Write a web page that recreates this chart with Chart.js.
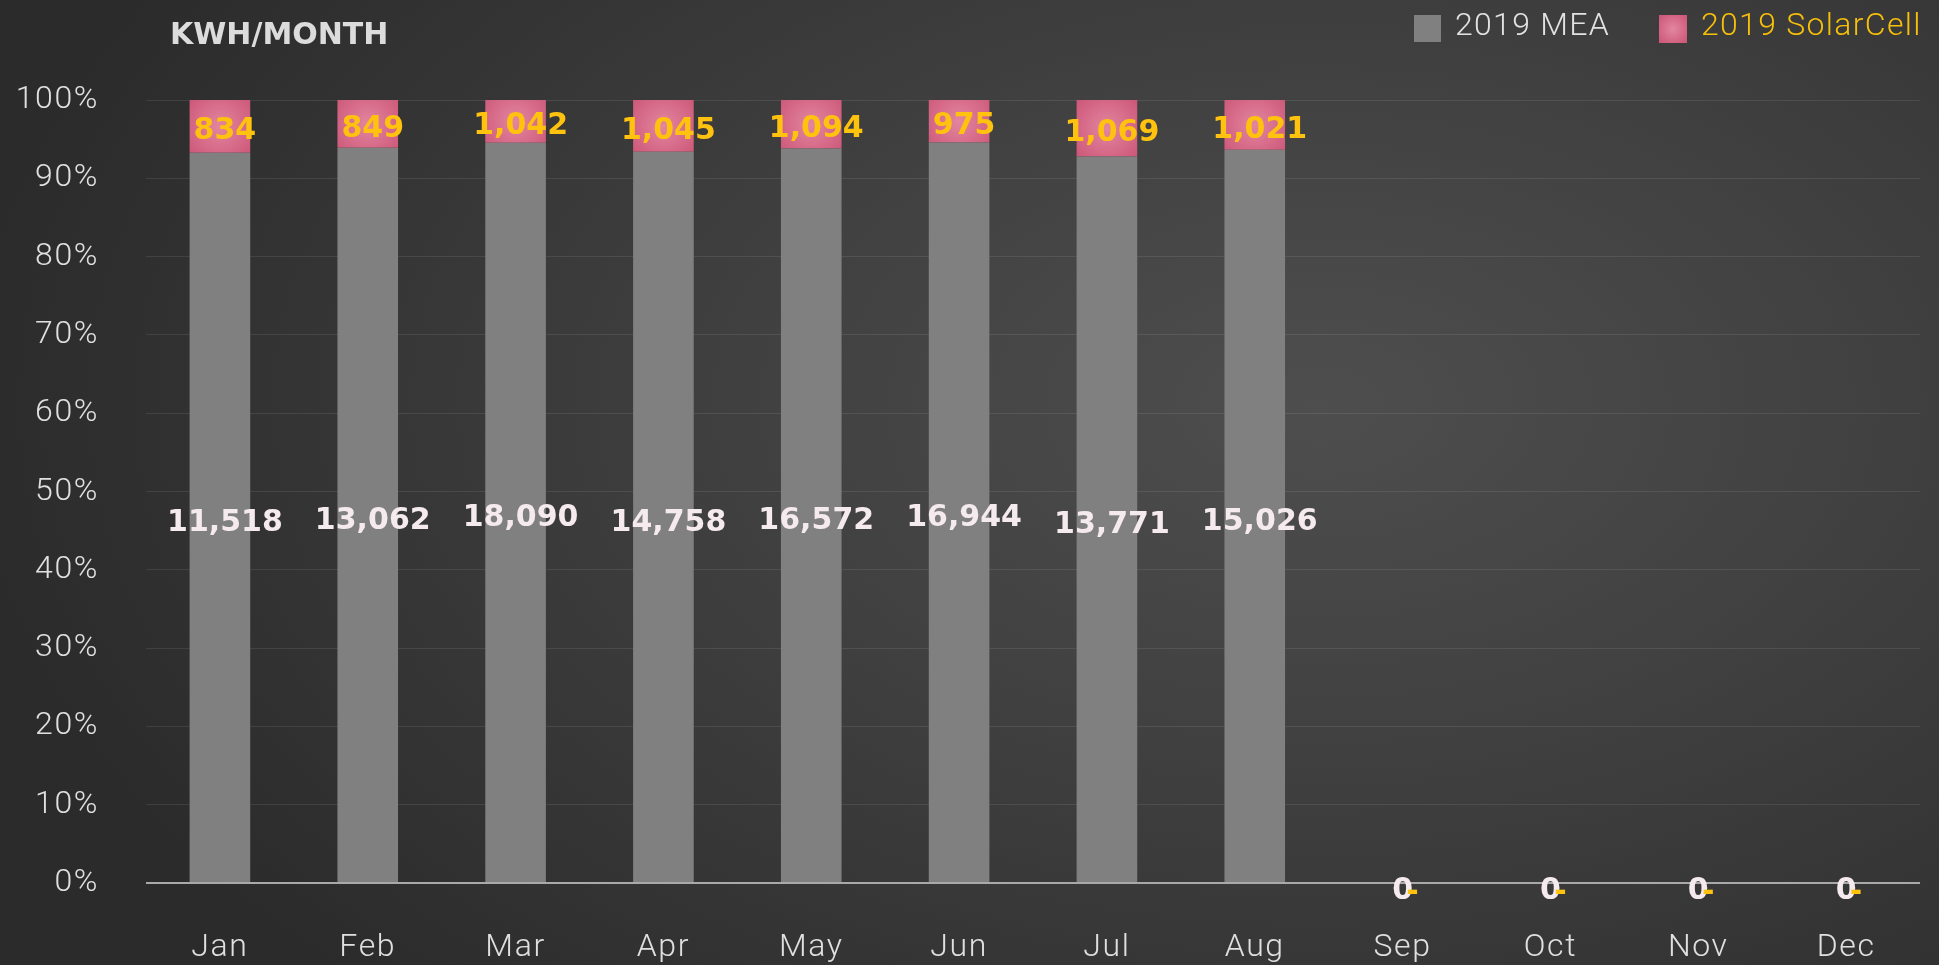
<!DOCTYPE html>
<html>
<head>
<meta charset="utf-8">
<script src="https://cdn.jsdelivr.net/npm/chart.js@4.4.0/dist/chart.umd.min.js"></script>
<style>
  html, body { margin: 0; padding: 0; }
  body {
    width: 1939px; height: 965px; overflow: hidden;
    background: radial-gradient(ellipse 70% 85% at 68% 42%, #4e4e4e 0%, #414141 40%, #2b2b2b 100%);
  }
  canvas { display: block; }
</style>
</head>
<body>
<canvas id="kwhChart" width="1939" height="965"></canvas>
<script>
// ***************************************************************************************************
// Dados do gráfico

const months = ["Jan", "Feb", "Mar", "Apr", "May", "Jun", "Jul", "Aug", "Sep", "Oct", "Nov", "Dec"];
const meaKwh = [11518, 13062, 18090, 14758, 16572, 16944, 13771, 15026, 0, 0, 0, 0];
const solarKwh = [834, 849, 1042, 1045, 1094, 975, 1069, 1021, 0, 0, 0, 0];
const yTicks = [0, 10, 20, 30, 40, 50, 60, 70, 80, 90, 100];

// ***************************************************************************************************

const LIGHT_FONT = "Roboto, 'Noto Sans', sans-serif";
const BOLD_FONT = "'DejaVu Sans', Roboto, sans-serif";

function toPercent(part, other) {
    var total = [];
    for (let i = 0; i < part.length; i++) {
        var sum = part[i] + other[i];
        total.push(sum == 0 ? 0 : part[i] / sum * 100);
    }
    return total;
}

const meaPct = toPercent(meaKwh, solarKwh);
const solarPct = toPercent(solarKwh, meaKwh);

// gradiente rosa de cada barra solar
function solarFill(context) {
    var chart = context.chart;
    var xs = chart.scales.x, ys = chart.scales.y;
    if (!xs || !ys || context.dataIndex === undefined) return '#d8678a';
    var i = context.dataIndex;
    var cx = xs.getPixelForValue(i);
    var top = ys.getPixelForValue(100);
    var bottom = ys.getPixelForValue(100 - solarPct[i]);
    var cy = (top + bottom) / 2;
    if (!isFinite(cx) || !isFinite(cy)) return '#d8678a';
    var g = chart.ctx.createRadialGradient(cx, cy, 0, cx, cy, 40);
    g.addColorStop(0, '#e3869f');
    g.addColorStop(1, '#cd5879');
    return g;
}

// espaçamento das letras para os textos dos eixos
const spacingPlugin = {
    id: 'spacing',
    beforeDraw(chart) {
        chart.ctx.letterSpacing = '1.6px';
    }
};

// título e legenda desenhados à mão
const headerPlugin = {
    id: 'header',
    afterDraw(chart) {
        var ctx = chart.ctx;
        ctx.save();
        ctx.textBaseline = 'middle';
        ctx.textAlign = 'left';
        ctx.fillStyle = '#dcdcdc';
        ctx.letterSpacing = '0px';
        ctx.font = "bold 30px " + BOLD_FONT;
        ctx.fillText('KWH/MONTH', 170, 36);

        ctx.letterSpacing = '1.3px';
        ctx.font = "300 32px " + LIGHT_FONT;
        ctx.fillStyle = '#808080';
        ctx.fillRect(1414, 15, 27, 27);
        ctx.fillStyle = '#e2e2e2';
        ctx.fillText('2019 MEA', 1455, 27);

        var g = ctx.createRadialGradient(1673, 29, 0, 1673, 29, 18);
        g.addColorStop(0, '#e3869f');
        g.addColorStop(1, '#cd5879');
        ctx.fillStyle = g;
        ctx.fillRect(1659, 15, 28, 28);
        ctx.fillStyle = '#f5bf0a';
        ctx.fillText('2019 SolarCell', 1701, 27);
        ctx.restore();
    }
};

// rótulos de valor nas barras
const valueLabelPlugin = {
    id: 'valueLabels',
    afterDatasetsDraw(chart) {
        var ctx = chart.ctx;
        ctx.save();
        ctx.textAlign = 'center';
        ctx.textBaseline = 'middle';
        ctx.letterSpacing = '0px';
        ctx.font = "bold 30px " + BOLD_FONT;
        var sources = [meaKwh, solarKwh];
        var colors = ['#f5eaee', '#ffc20e'];
        for (let d = 0; d < chart.data.datasets.length; d++) {
            var meta = chart.getDatasetMeta(d);
            for (let i = 0; i < meta.data.length; i++) {
                var bar = meta.data[i];
                var value = sources[d][i];
                ctx.fillStyle = colors[d];
                if (value == 0) {
                    if (d == 0) {
                        ctx.fillText('0', bar.x, bar.base + 8);
                    } else {
                        ctx.fillText('-', bar.x + 10, bar.base + 10);
                    }
                } else {
                    var shift = d == 0 ? 6 : 5;
                    ctx.fillText(value.toLocaleString('en-US'), bar.x + 5, (bar.y + bar.base) / 2 + shift);
                }
            }
        }
        ctx.restore();
    }
};

const ctx = document.getElementById('kwhChart').getContext('2d');

globalThis.kwhChart = new Chart(ctx, {
    type: 'bar',
    data: {
        labels: months,
        datasets: [
            {
                label: '2019 MEA',
                data: meaPct,
                backgroundColor: '#808080',
                borderWidth: 0
            },
            {
                label: '2019 SolarCell',
                data: solarPct,
                backgroundColor: solarFill,
                borderWidth: 0
            }
        ]
    },
    options: {
        responsive: false,
        animation: false,
        layout: {
            padding: { top: 100, right: 19, left: 0, bottom: 0 }
        },
        barPercentage: 0.41,
        categoryPercentage: 1,
        scales: {
            x: {
                stacked: true,
                grid: { display: false, drawTicks: false },
                border: { display: false },
                ticks: {
                    color: '#e0e0e0',
                    font: { family: LIGHT_FONT, size: 32, weight: '300' },
                    padding: 46
                },
                afterFit: function (scale) { scale.height = 82; }
            },
            y: {
                stacked: true,
                min: 0,
                max: 100,
                afterBuildTicks: function (scale) {
                    scale.ticks = yTicks.map(function (v) { return { value: v }; });
                },
                grid: {
                    drawTicks: false,
                    color: function (c) { return c.tick && c.tick.value == 0 ? '#a9a9a9' : 'rgba(255,255,255,0.09)'; },
                    lineWidth: function (c) { return c.tick && c.tick.value == 0 ? 2 : 1; }
                },
                border: { display: false },
                ticks: {
                    color: '#e0e0e0',
                    font: { family: LIGHT_FONT, size: 32, weight: '300' },
                    padding: 47,
                    callback: function (v) { return v + '%'; }
                },
                afterFit: function (scale) { scale.width = 146; }
            }
        },
        plugins: {
            legend: { display: false },
            tooltip: { enabled: false }
        }
    },
    plugins: [spacingPlugin, headerPlugin, valueLabelPlugin]
});
</script>
</body>
</html>
